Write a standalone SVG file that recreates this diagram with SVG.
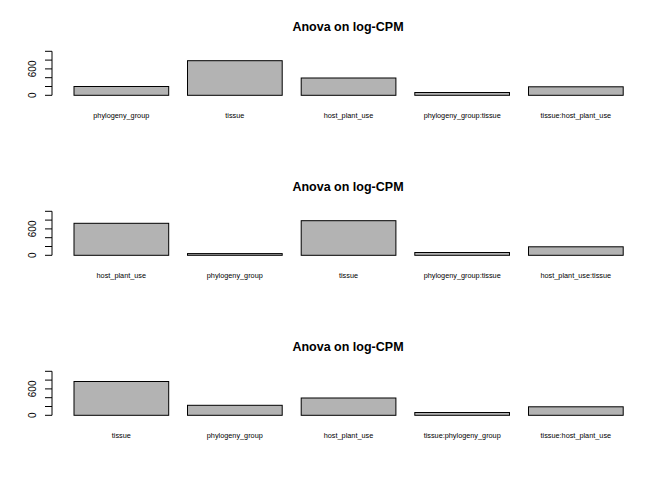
<svg xmlns="http://www.w3.org/2000/svg" width="672" height="480" viewBox="0 0 672 480">
<style>
.title{font-family:"Liberation Sans",Arial,sans-serif;font-size:12.5px;font-weight:bold;text-anchor:middle;fill:#000}
.ax{font-family:"Liberation Sans",Arial,sans-serif;font-size:10px;text-anchor:middle;fill:#000}
.nm{font-family:"Liberation Sans",Arial,sans-serif;font-size:7.3px;text-anchor:middle;fill:#000}
.bar{fill:#b3b3b3;stroke:#000;stroke-width:1}
.axl{stroke:#000;stroke-width:1;fill:none}
</style>
<defs>
<g id="axis">
<path class="axl" d="M52,51.3V95.3M45,51.3H52M45,60.1H52M45,68.9H52M45,77.7H52M45,86.5H52M45,95.3H52"/>
<text class="ax" transform="translate(35.5,95.3) rotate(-90)">0</text>
<text class="ax" transform="translate(35.5,68.9) rotate(-90)">600</text>
</g>
</defs>
<rect width="672" height="480" fill="#fff"/>
<g id="panel1">
<text class="title" x="348" y="31">Anova on log-CPM</text>
<use href="#axis"/>
<rect class="bar" x="74" y="86.5" width="94.7" height="8.8"/>
<rect class="bar" x="187.5" y="60.7" width="94.7" height="34.6"/>
<rect class="bar" x="301.2" y="78" width="94.7" height="17.3"/>
<rect class="bar" x="414.8" y="92.5" width="94.7" height="2.8"/>
<rect class="bar" x="528.5" y="86.8" width="94.7" height="8.5"/>
<text class="nm" x="121.3" y="118">phylogeny_group</text>
<text class="nm" x="234.8" y="118">tissue</text>
<text class="nm" x="348.5" y="118">host_plant_use</text>
<text class="nm" x="462.2" y="118">phylogeny_group:tissue</text>
<text class="nm" x="575.8" y="118">tissue:host_plant_use</text>
</g>
<g id="panel2" transform="translate(0,160)">
<text class="title" x="348" y="31">Anova on log-CPM</text>
<use href="#axis"/>
<rect class="bar" x="74" y="63.3" width="94.7" height="32"/>
<rect class="bar" x="187.5" y="93.6" width="94.7" height="1.7"/>
<rect class="bar" x="301.2" y="60.7" width="94.7" height="34.6"/>
<rect class="bar" x="414.8" y="92.5" width="94.7" height="2.8"/>
<rect class="bar" x="528.5" y="86.8" width="94.7" height="8.5"/>
<text class="nm" x="121.3" y="118">host_plant_use</text>
<text class="nm" x="234.8" y="118">phylogeny_group</text>
<text class="nm" x="348.5" y="118">tissue</text>
<text class="nm" x="462.2" y="118">phylogeny_group:tissue</text>
<text class="nm" x="575.8" y="118">host_plant_use:tissue</text>
</g>
<g id="panel3" transform="translate(0,320)">
<text class="title" x="348" y="31">Anova on log-CPM</text>
<use href="#axis"/>
<rect class="bar" x="74" y="61.5" width="94.7" height="33.8"/>
<rect class="bar" x="187.5" y="85.3" width="94.7" height="10"/>
<rect class="bar" x="301.2" y="78" width="94.7" height="17.3"/>
<rect class="bar" x="414.8" y="92.5" width="94.7" height="2.8"/>
<rect class="bar" x="528.5" y="86.8" width="94.7" height="8.5"/>
<text class="nm" x="121.3" y="118">tissue</text>
<text class="nm" x="234.8" y="118">phylogeny_group</text>
<text class="nm" x="348.5" y="118">host_plant_use</text>
<text class="nm" x="462.2" y="118">tissue:phylogeny_group</text>
<text class="nm" x="575.8" y="118">tissue:host_plant_use</text>
</g>
</svg>
